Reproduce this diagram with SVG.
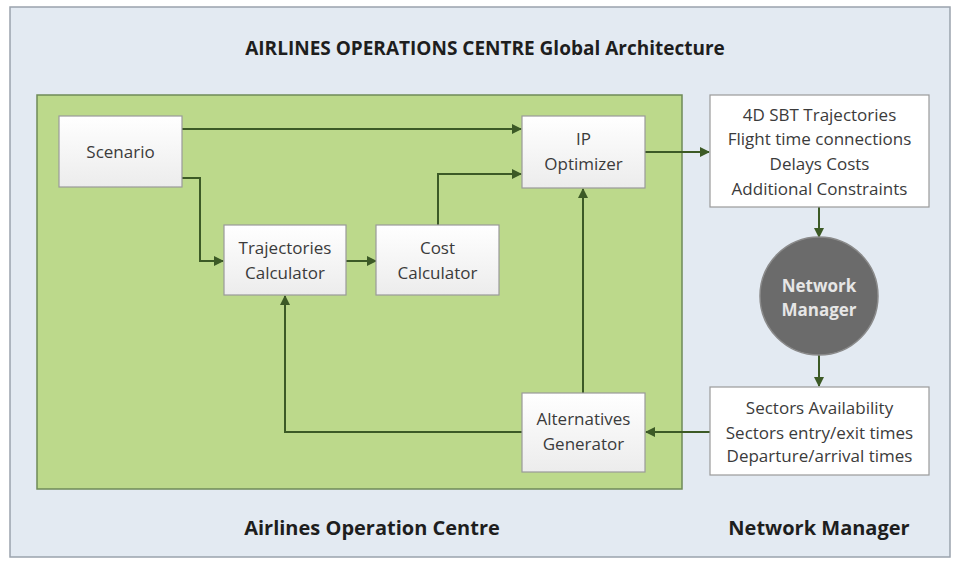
<svg xmlns="http://www.w3.org/2000/svg" width="954" height="561" viewBox="0 0 954 561">
  <defs>
    <linearGradient id="boxFill" x1="0" y1="0" x2="0" y2="1">
      <stop offset="0" stop-color="#ffffff"/>
      <stop offset="1" stop-color="#ececec"/>
    </linearGradient>
    <marker id="arrow" viewBox="0 0 10 10" refX="9" refY="5" markerWidth="10" markerHeight="10" markerUnits="userSpaceOnUse" orient="auto">
      <path d="M0,0 L10,5 L0,10 z" fill="#3c5a26"/>
    </marker>
  </defs>
  <style>
    .frame { fill: #e3eaf2; stroke: #9aa3ad; stroke-width: 1.5; }
    .zone { fill: #bcd98b; stroke: #6f8a58; stroke-width: 1.5; }
    .box { fill: url(#boxFill); stroke: #9a9a9a; stroke-width: 1.2; }
    .info { fill: #ffffff; stroke: #9a9a9a; stroke-width: 1.2; }
    .hub { fill: #6b6b6b; stroke: #8a8a8a; stroke-width: 1.5; }
    .label { font-family: "Open Sans", "Noto Sans", "Liberation Sans", sans-serif; font-size: 17px; fill: #3b3b3b; text-anchor: middle; }
    .hubtext { font-family: "Open Sans", "Noto Sans", "Liberation Sans", sans-serif; font-size: 17px; font-weight: bold; fill: #e6e6e6; text-anchor: middle; }
    .heading { font-family: "Open Sans", "Noto Sans", "Liberation Sans", sans-serif; font-size: 19px; font-weight: bold; fill: #1e1e1e; text-anchor: middle; }
    .caption { font-family: "Open Sans", "Noto Sans", "Liberation Sans", sans-serif; font-size: 20px; font-weight: bold; fill: #1e1e1e; text-anchor: middle; }
    .link { fill: none; stroke: #3c5a26; stroke-width: 2; marker-end: url(#arrow); }
  </style>

  <!-- background frame and operations-centre zone -->
  <rect class="frame" x="10" y="7" width="940" height="550"/>
  <text class="heading" x="485" y="55">AIRLINES OPERATIONS CENTRE Global Architecture</text>
  <rect class="zone" x="37" y="95" width="645" height="394"/>

  <g id="connectors">
    <path class="link" d="M182,129 H521"/>
    <path class="link" d="M182,178 H200 V261 H223"/>
    <path class="link" d="M346,261 H376"/>
    <path class="link" d="M438,225 V174 H521"/>
    <path class="link" d="M583,393 V189"/>
    <path class="link" d="M645,152 H709"/>
    <path class="link" d="M819,207 V237"/>
    <path class="link" d="M819,355 V386"/>
    <path class="link" d="M710,432 H646"/>
    <path class="link" d="M522,432 H285 V296"/>
  </g>

  <g id="scenario">
    <rect class="box" x="59" y="116" width="123" height="71"/>
    <text class="label" x="120.5" y="158">Scenario</text>
  </g>

  <g id="trajectories-calculator">
    <rect class="box" x="224" y="225" width="122" height="70"/>
    <text class="label" x="285" y="254">Trajectories</text>
    <text class="label" x="285" y="279">Calculator</text>
  </g>

  <g id="cost-calculator">
    <rect class="box" x="376" y="225" width="123" height="70"/>
    <text class="label" x="437.5" y="254">Cost</text>
    <text class="label" x="437.5" y="279">Calculator</text>
  </g>

  <g id="ip-optimizer">
    <rect class="box" x="522" y="116" width="123" height="72"/>
    <text class="label" x="583.5" y="145">IP</text>
    <text class="label" x="583.5" y="170">Optimizer</text>
  </g>

  <g id="alternatives-generator">
    <rect class="box" x="522" y="393" width="123" height="79"/>
    <text class="label" x="583.5" y="425">Alternatives</text>
    <text class="label" x="583.5" y="450">Generator</text>
  </g>

  <g id="aoc-outputs">
    <rect class="info" x="710" y="95" width="219" height="112"/>
    <text class="label" x="819.5" y="121">4D SBT Trajectories</text>
    <text class="label" x="819.5" y="145">Flight time connections</text>
    <text class="label" x="819.5" y="170">Delays Costs</text>
    <text class="label" x="819.5" y="195">Additional Constraints</text>
  </g>

  <g id="network-manager-hub">
    <circle class="hub" cx="819" cy="296" r="59"/>
    <text class="hubtext" x="819" y="292">Network</text>
    <text class="hubtext" x="819" y="316">Manager</text>
  </g>

  <g id="nm-outputs">
    <rect class="info" x="710" y="387" width="219" height="88"/>
    <text class="label" x="819.5" y="414">Sectors Availability</text>
    <text class="label" x="819.5" y="439">Sectors entry/exit times</text>
    <text class="label" x="819.5" y="462">Departure/arrival times</text>
  </g>

  <text class="caption" x="372" y="535">Airlines Operation Centre</text>
  <text class="caption" x="819" y="535">Network Manager</text>
</svg>
